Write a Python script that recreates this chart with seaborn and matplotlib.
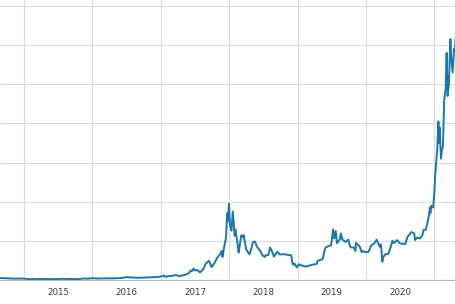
import matplotlib
matplotlib.use("Agg")
import matplotlib.pyplot as plt
import matplotlib.dates as mdates
import seaborn as sns
import pandas as pd

dates = [
    "2014-08-26", "2014-09-15", "2014-10-01", "2014-10-15", "2014-11-01", "2014-11-15", "2014-12-01", "2014-12-15",
    "2015-01-01", "2015-01-15", "2015-01-29", "2015-02-15", "2015-03-01", "2015-03-15", "2015-04-01", "2015-04-15",
    "2015-05-01", "2015-05-15", "2015-06-01", "2015-06-15", "2015-07-01", "2015-07-15", "2015-08-01", "2015-08-15",
    "2015-09-01", "2015-09-15", "2015-10-01", "2015-10-15", "2015-11-01", "2015-11-18", "2015-12-01", "2015-12-15",
    "2015-12-29", "2016-01-15", "2016-01-29", "2016-02-15", "2016-03-01", "2016-03-15", "2016-04-01", "2016-04-15",
    "2016-05-01", "2016-05-15", "2016-06-01", "2016-06-15", "2016-07-02", "2016-07-15", "2016-08-01", "2016-08-15",
    "2016-09-01", "2016-09-15", "2016-10-01", "2016-10-15", "2016-11-01", "2016-11-15", "2016-12-01", "2016-12-15",
    "2017-01-01", "2017-01-15", "2017-01-19", "2017-01-26", "2017-02-15", "2017-03-01", "2017-03-15", "2017-03-25",
    "2017-04-08", "2017-04-15", "2017-05-01", "2017-05-15", "2017-06-01", "2017-06-08", "2017-06-15", "2017-06-25",
    "2017-07-01", "2017-07-15", "2017-07-29", "2017-08-15", "2017-08-29", "2017-09-15", "2017-09-29", "2017-10-15",
    "2017-10-29", "2017-11-15", "2017-11-22", "2017-11-26", "2017-12-04", "2017-12-15", "2017-12-21", "2017-12-24",
    "2017-12-31", "2018-01-05", "2018-01-13", "2018-01-20", "2018-01-30", "2018-02-03", "2018-02-15", "2018-02-20",
    "2018-02-24", "2018-03-06", "2018-03-15", "2018-03-19", "2018-04-01", "2018-04-15", "2018-04-20", "2018-04-29",
    "2018-05-08", "2018-05-19", "2018-05-29", "2018-06-15", "2018-06-27", "2018-07-12", "2018-07-15", "2018-07-29",
    "2018-08-07", "2018-08-15", "2018-08-28", "2018-09-15", "2018-09-29", "2018-10-15", "2018-10-29", "2018-11-15",
    "2018-11-28", "2018-12-04", "2018-12-09", "2018-12-15", "2018-12-29", "2019-01-07", "2019-01-15", "2019-01-29",
    "2019-02-15", "2019-03-01", "2019-03-15", "2019-03-29", "2019-04-15", "2019-04-17", "2019-04-29", "2019-05-15",
    "2019-05-29", "2019-06-13", "2019-06-29", "2019-07-10", "2019-07-15", "2019-07-24", "2019-07-30", "2019-08-15",
    "2019-08-20", "2019-08-29", "2019-09-15", "2019-09-29", "2019-10-09", "2019-10-15", "2019-10-29", "2019-11-06",
    "2019-11-09", "2019-11-15", "2019-11-29", "2019-12-09", "2019-12-15", "2019-12-29", "2020-01-15", "2020-01-29",
    "2020-02-15", "2020-02-27", "2020-03-15", "2020-03-21", "2020-03-29", "2020-04-01", "2020-04-15", "2020-04-29",
    "2020-05-14", "2020-05-21", "2020-05-29", "2020-06-15", "2020-06-29", "2020-07-15", "2020-07-29", "2020-08-10",
    "2020-08-15", "2020-08-31", "2020-09-15", "2020-09-19", "2020-09-29", "2020-10-15", "2020-10-29", "2020-11-04",
    "2020-11-15", "2020-11-19", "2020-11-29", "2020-12-08", "2020-12-10", "2020-12-15", "2020-12-25", "2020-12-31",
    "2021-01-05", "2021-01-10", "2021-01-16", "2021-01-22", "2021-01-25", "2021-01-28", "2021-02-05", "2021-02-09",
    "2021-02-15", "2021-02-22", "2021-02-26", "2021-03-02", "2021-03-07", "2021-03-12", "2021-03-19", "2021-03-27",
    "2021-03-31", "2021-04-08", "2021-04-15", "2021-04-20", "2021-04-27",
]

prices = [
    500, 480, 440, 380, 390, 330, 375, 370,
    330, 300, 200, 230, 240, 270, 260, 240,
    225, 235, 235, 225, 245, 270, 285, 270,
    230, 230, 235, 245, 290, 400, 330, 390,
    450, 430, 380, 380, 425, 420, 415, 420,
    450, 455, 500, 580, 750, 670, 660, 570,
    580, 605, 610, 640, 700, 720, 740, 770,
    900, 1020, 1130, 810, 1000, 1050, 1220, 1250,
    940, 1090, 1210, 1400, 1800, 2400, 2250, 2950,
    2450, 2550, 1930, 2750, 4200, 4900, 3300, 4400,
    5700, 6700, 7400, 5900, 8200, 10900, 17000, 15000,
    19500, 14000, 12600, 17500, 11300, 12900, 9100, 7000,
    8100, 11400, 10950, 11500, 7900, 6800, 6600, 8000,
    9700, 9800, 8500, 7500, 6300, 5900, 6350, 6350,
    8300, 7600, 6000, 7200, 6500, 6600, 6500, 6400,
    6300, 4500, 3900, 4200, 3200, 4000, 3850, 3600,
    3450, 3600, 3850, 3950, 4150, 4900, 5050, 5350,
    8200, 8600, 8900, 12900, 10600, 12500, 9400, 10400,
    11900, 10300, 9700, 10300, 8500, 8300, 8300, 7400,
    9500, 9200, 8500, 7100, 7400, 7100, 7200, 8800,
    9400, 10300, 8500, 9100, 4700, 5800, 6600, 6650,
    8700, 10000, 9400, 10200, 9400, 9230, 9200, 11000,
    11300, 12250, 11900, 10200, 10800, 10600, 11500, 12800,
    12800, 13500, 15500, 18500, 17000, 19000, 18500, 22000,
    27000, 30000, 33500, 40500, 35000, 39000, 31000, 33000,
    34000, 46000, 47500, 49000, 58000, 47000, 50000, 61500,
    57000, 53000, 59000, 58500, 63500,
]

year_labels = ["2015", "2016", "2017", "2018", "2019", "2020"]

df = pd.DataFrame({"date": pd.to_datetime(dates), "price": prices})

sns.set_theme(style="whitegrid")
plt.rcParams["font.family"] = ["DejaVu Sans"]

fig = plt.figure(figsize=(4.56, 3.04), dpi=100)
ax = fig.add_axes([0, 24 / 304, 1, 280 / 304])
ax.set_facecolor("white")

sns.lineplot(data=df, x="date", y="price", ax=ax, color="#1a76ad", linewidth=1.4)

ax.set_xlim(pd.Timestamp("2014-08-26"), pd.Timestamp("2021-04-26"))
ax.set_ylim(0, 71500)
ax.set_yticks(range(0, 70001, 10000))
ax.set_yticklabels([])
ax.set_xlabel("")
ax.set_ylabel("")

ax.xaxis.set_major_locator(mdates.YearLocator())
ax.xaxis.set_major_formatter(plt.NullFormatter())
ax.set_xticks([pd.Timestamp(f"{y}-07-02") for y in year_labels], minor=True)
ax.set_xticklabels(year_labels, minor=True)
ax.tick_params(axis="x", which="both", length=0, pad=6, labelsize=6.2, labelcolor="#3a3a3a")
ax.tick_params(axis="y", length=0)

ax.grid(True, which="major", color="#dcdcdc", linewidth=0.8)
ax.grid(False, which="minor")
for s in ["left", "right", "top"]:
    ax.spines[s].set_visible(False)
ax.spines["bottom"].set_color("#b8b8b8")
ax.spines["bottom"].set_linewidth(0.8)

fig.savefig("out.png", dpi=100)
